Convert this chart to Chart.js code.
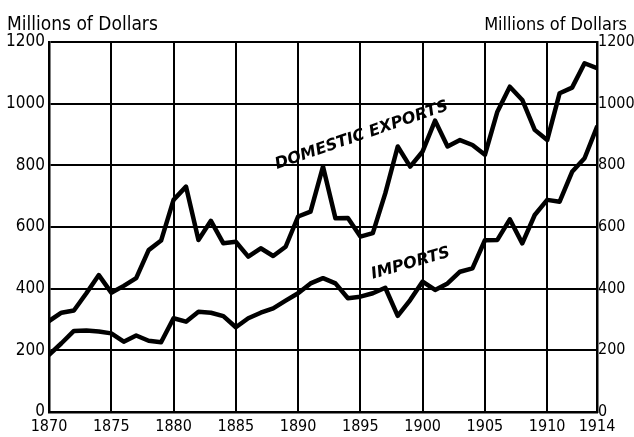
<!DOCTYPE html>
<html>
<head>
<meta charset="utf-8">
<script src="https://cdn.jsdelivr.net/npm/chart.js@4"></script>
<style>
  html, body { margin: 0; padding: 0; background: #fff; }
  #wrap { width: 634px; height: 437px; position: relative; }
</style>
</head>
<body>
<div id="wrap"><canvas id="tradeChart"></canvas></div>
<script>
// years on the x axis
var years = [1870,1871,1872,1873,1874,1875,1876,1877,1878,1879,
             1880,1881,1882,1883,1884,1885,1886,1887,1888,1889,
             1890,1891,1892,1893,1894,1895,1896,1897,1898,1899,
             1900,1901,1902,1903,1904,1905,1906,1907,1908,1909,
             1910,1911,1912,1913,1914]

// millions of dollars
var domesticExports = [295,322,329,385,444,387,409,434,525,556,
                       688,731,558,620,547,552,504,531,506,536,
                       634,650,796,628,629,569,580,709,861,796,
                       845,945,861,882,866,834,974,1055,1012,915,
                       882,1034,1052,1131,1115]

var imports = [185,223,263,264,261,255,228,248,231,226,
               304,293,325,322,311,275,304,322,336,361,
               385,417,434,417,369,374,385,403,312,363,
               423,396,417,455,466,557,558,625,547,639,
               688,682,779,823,925]

var yearTicks = [1870,1875,1880,1885,1890,1895,1900,1905,1910,1914]
var valueTicks = [0,200,400,600,800,1000,1200]

var narrow = "'DejaVu Sans Condensed', 'Liberation Sans Narrow', sans-serif"

var labelsPlugin = {
    id: 'labels',
    afterDraw: function(chart) {
        var ctx = chart.ctx
        var xs = chart.scales.x
        var ys = chart.scales.y
        ctx.save()
        ctx.fillStyle = '#000'
        ctx.font = "19px " + narrow
        ctx.textBaseline = 'alphabetic'
        ctx.textAlign = 'left'
        ctx.fillText('Millions of Dollars', 7, 30)
        ctx.textAlign = 'right'
        ctx.font = "18px " + narrow
        ctx.fillText('Millions of Dollars', 627, 30)

        // line labels
        ctx.font = "bold italic 16px 'DejaVu Sans', sans-serif"
        ctx.textAlign = 'left'
        ctx.save()
        ctx.translate(xs.getPixelForValue(1888.3), ys.getPixelForValue(788))
        ctx.rotate(-19 * Math.PI / 180)
        ctx.fillText('DOMESTIC EXPORTS', 0, 0)
        ctx.restore()

        ctx.save()
        ctx.translate(xs.getPixelForValue(1896), ys.getPixelForValue(432))
        ctx.rotate(-16 * Math.PI / 180)
        ctx.fillText('IMPORTS', 0, 0)
        ctx.restore()
        ctx.restore()
    }
}

var ctx = document.getElementById('tradeChart').getContext('2d')
var tradeChart = new Chart(ctx, {
    type: 'line',
    data: {
        datasets: [{
            label: 'Domestic Exports',
            data: years.map(function(y, i) { return { x: y, y: domesticExports[i] } }),
            borderColor: '#000',
            borderWidth: 4.5,
            pointRadius: 0,
            tension: 0,
            borderJoinStyle: 'round',
            borderCapStyle: 'round'
        }, {
            label: 'Imports',
            data: years.map(function(y, i) { return { x: y, y: imports[i] } }),
            borderColor: '#000',
            borderWidth: 4.5,
            pointRadius: 0,
            tension: 0,
            borderJoinStyle: 'round',
            borderCapStyle: 'round'
        }]
    },
    options: {
        responsive: true,
        maintainAspectRatio: false,
        animation: false,
        layout: { padding: { top: 42, left: 0, right: 0, bottom: 0 } },
        scales: {
            x: {
                type: 'linear',
                min: 1870,
                max: 1914,
                afterBuildTicks: function(scale) {
                    scale.ticks = yearTicks.map(function(v) { return { value: v } })
                },
                afterFit: function(scale) { scale.height = 25 },
                ticks: {
                    color: '#000',
                    font: { family: narrow, size: 16 },
                    padding: 5,
                    maxRotation: 0,
                    autoSkip: false,
                    callback: function(v) { return String(v) }
                },
                grid: { color: '#000', lineWidth: 2, drawTicks: false },
                border: { color: '#000', width: 2.5 }
            },
            y: {
                position: 'left',
                min: 0,
                max: 1200,
                afterBuildTicks: function(scale) {
                    scale.ticks = valueTicks.map(function(v) { return { value: v } })
                },
                afterFit: function(scale) { scale.width = 49 },
                ticks: {
                    color: '#000',
                    font: { family: narrow, size: 17 },
                    padding: 4,
                    callback: function(v) { return String(v) }
                },
                grid: { color: '#000', lineWidth: 2, drawTicks: false },
                border: { color: '#000', width: 2.5 }
            },
            y2: {
                position: 'right',
                min: 0,
                max: 1200,
                afterBuildTicks: function(scale) {
                    scale.ticks = valueTicks.map(function(v) { return { value: v } })
                },
                afterFit: function(scale) { scale.width = 37 },
                ticks: {
                    color: '#000',
                    font: { family: narrow, size: 16 },
                    padding: 1,
                    callback: function(v) { return String(v) }
                },
                grid: { display: false, drawTicks: false },
                border: { color: '#000', width: 2.5 }
            }
        },
        plugins: {
            legend: { display: false },
            tooltip: { enabled: false }
        }
    },
    plugins: [labelsPlugin]
})
</script>
</body>
</html>
